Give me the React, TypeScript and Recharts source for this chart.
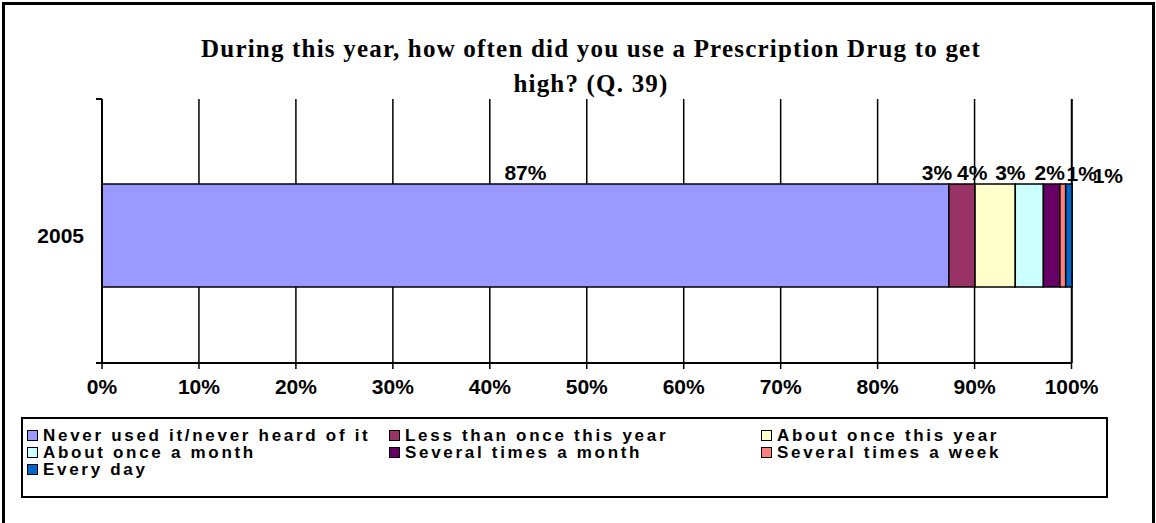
import React from "react";
import { BarChart, Bar, XAxis, YAxis, CartesianGrid, LabelList } from "recharts";

const categories = ["2005"];
const seriesNames = [
  "Never used it/never heard of it",
  "Less than once this year",
  "About once this year",
  "About once a month",
  "Several times a month",
  "Several times a week",
  "Every day",
];
const seriesColors = ["#9999FF", "#993366", "#FFFFCC", "#CCFFFF", "#660066", "#FF8080", "#0066CC"];
const values2005 = [87.35, 2.7, 4.15, 2.9, 1.7, 0.6, 0.65];
const labelTexts = ["87%", "3%", "4%", "3%", "2%", "1%", "1%"];
const xTicks = [0, 10, 20, 30, 40, 50, 60, 70, 80, 90, 100];

// label nudges (pixels) relative to segment centre, as in the original layout
const labelDx = [0, -25, -23, -19, -2, 19, 39];
const labelDy = [0, 0, 0, 0, 0, 1, 3];

const keys = seriesNames.map((_, i) => `s${i}`);
const data = categories.map((c) => {
  const row: Record<string, any> = { name: c };
  keys.forEach((k, i) => {
    row[k] = values2005[i];
  });
  return row;
});

const FONT = "'Liberation Sans', Arial, sans-serif";

const makeLabel = (i: number) => (props: any) => {
  const { x, y, width } = props;
  const cx = Number(x) + Number(width) / 2 + labelDx[i];
  return (
    <text
      x={cx}
      y={Number(y) - 12 + labelDy[i]}
      textAnchor="middle"
      dominantBaseline="central"
      fontFamily={FONT}
      fontWeight="bold"
      fontSize={21}
      fill="#000"
    >
      {labelTexts[i]}
    </text>
  );
};

const LegendBox = () => {
  const colLeft = [0, 362, 734];
  return (
    <div
      style={{
        position: "absolute",
        left: 21,
        top: 417,
        width: 1083,
        height: 77,
        border: "2px solid #000",
        background: "#fff",
        fontFamily: FONT,
        fontWeight: "bold",
        fontSize: 17,
        letterSpacing: 2.7,
        color: "#000",
      }}
    >
      {seriesNames.map((n, i) => {
        const col = i % 3;
        const row = Math.floor(i / 3);
        return (
          <div
            key={n}
            style={{
              position: "absolute",
              left: 4 + colLeft[col],
              top: 8 + row * 17,
              height: 17,
              display: "flex",
              alignItems: "center",
              whiteSpace: "nowrap",
              lineHeight: "17px",
            }}
          >
            <span
              style={{
                display: "inline-block",
                width: 11,
                height: 11,
                background: seriesColors[i],
                border: "1.5px solid #000",
                marginRight: 5,
                boxSizing: "border-box",
              }}
            />
            {n}
          </div>
        );
      })}
    </div>
  );
};

export default function App() {
  return (
    <div
      style={{
        position: "absolute",
        left: 0,
        top: 0,
        width: 1156,
        height: 523,
        overflow: "hidden",
        background: "#fff",
      }}
    >
      <div
        style={{
          position: "absolute",
          left: 2,
          top: 2,
          width: 1147,
          height: 600,
          borderTop: "3px solid #000",
          borderLeft: "3px solid #000",
          borderRight: "3px solid #000",
        }}
      />
      <div
        style={{
          position: "absolute",
          left: 0,
          width: 1182,
          top: 31,
          textAlign: "center",
          fontFamily: "'Liberation Serif', 'Times New Roman', serif",
          fontWeight: "bold",
          fontSize: 25,
          letterSpacing: 1.2,
          lineHeight: "35px",
          color: "#000",
        }}
      >
        During this year, how often did you use a Prescription Drug to get
        <br />
        high? (Q. 39)
      </div>
      <BarChart
        width={1156}
        height={523}
        data={data}
        layout="vertical"
        margin={{ top: 99, right: 84, bottom: 120, left: 20 }}
        style={{ position: "absolute", left: 0, top: 0 }}
      >
        <CartesianGrid horizontal={false} vertical stroke="#000" strokeWidth={1.5} />
        <XAxis
          type="number"
          domain={[0, 100]}
          ticks={xTicks}
          tickFormatter={(v: number) => `${v}%`}
          axisLine={{ stroke: "#000", strokeWidth: 2 }}
          tickLine={{ stroke: "#000", strokeWidth: 1.5 }}
          tickSize={6}
          tick={{ fill: "#000", fontFamily: FONT, fontWeight: "bold", fontSize: 21 }}
          tickMargin={10}
          height={40}
        />
        <YAxis
          type="category"
          dataKey="name"
          width={82}
          axisLine={{ stroke: "#000", strokeWidth: 2 }}
          tickLine={false}
          tick={{ fill: "#000", fontFamily: FONT, fontWeight: "bold", fontSize: 21 }}
          tickMargin={12}
          padding={{ top: 9, bottom: 0 }}
        />
        {keys.map((k, i) => (
          <Bar
            key={k}
            dataKey={k}
            name={seriesNames[i]}
            stackId="a"
            fill={seriesColors[i]}
            stroke="#000"
            strokeWidth={1.5}
            barSize={103}
            isAnimationActive={false}
          >
            <LabelList dataKey={k} content={makeLabel(i)} />
          </Bar>
        ))}
      </BarChart>
      <div style={{ position: "absolute", left: 96, top: 98, width: 6, height: 2, background: "#000" }} />
      <div style={{ position: "absolute", left: 96, top: 362, width: 6, height: 2, background: "#000" }} />
      <LegendBox />
    </div>
  );
}
